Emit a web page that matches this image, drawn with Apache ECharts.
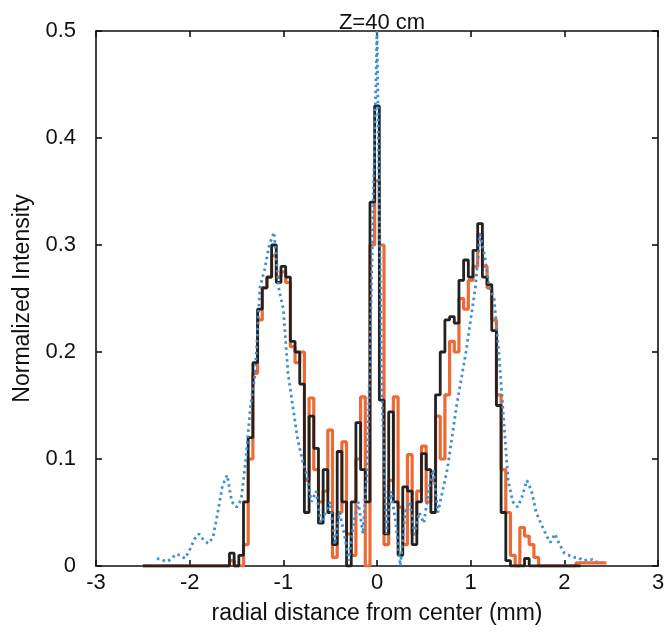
<!DOCTYPE html>
<html><head><meta charset="utf-8">
<script src="https://cdn.jsdelivr.net/npm/echarts@6/dist/echarts.min.js"></script>
<style>html,body{margin:0;padding:0;background:#fff}#c{width:670px;height:639px}</style>
</head><body><div id="c"></div>
<script>
// x positions (mm), step 0.05 from -2.5 to 2.45
var xs = [];
for (var i = 0; i <= 99; i++) xs.push(Math.round((-2.5 + 0.05 * i) * 100) / 100);

var titleText = 'Z=40 cm';
var xName = 'radial distance from center (mm)';
var yName = 'Normalized Intensity';
var xTicks = [-3, -2, -1, 0, 1, 2, 3];
var yTicks = [0, 0.1, 0.2, 0.3, 0.4, 0.5];

// black solid series (values at xs)
var blackVals = [
 0,0,0,0,0,0,0,0,0,0,            // -2.50 .. -2.05
 0,0,0,0,0,0,0,0,0,0.012,        // -2.00 .. -1.55
 0,0.01,0.06,0.12,0.19,0.24,0.26,0.27,0.30,0.265, // -1.50 .. -1.05
 0.28,0.27,0.21,0.20,0.17,0.05,0.14,0.11,0.04,0.09, // -1.00 .. -0.55
 0.05,0.02,0.107,0.06,0.0,0.06,0.134,0.09,0.06,0.34, // -0.50 .. -0.05
 0.43,0.155,0.03,0.144,0.06,0.01,0.074,0.07,0.02,0.06, // 0.00 .. 0.45
 0.105,0.09,0.05,0.16,0.20,0.23,0.233,0.227,0.267,0.286, // 0.50 .. 0.95
 0.27,0.295,0.32,0.27,0.263,0.22,0.15,0.05,0.005,0, // 1.00 .. 1.45
 0,0,0.007,0,0,0,0,0,0,0,        // 1.50 .. 1.95
 0,0,0,0,null,null,null,null,null,null // 2.00 .. 2.45
];
// orange solid series
var orangeVals = [
 0,0,0,0,0,0,0,0,0,0,
 0,0,0,0,0,0,0,0,0,0.005,
 0,0,0.02,0.10,0.18,0.23,0.26,0.27,0.29,0.27,
 0.275,0.265,0.205,0.19,0.20,0.08,0.157,0.09,0.06,0.07,
 0.127,0.008,0.05,0.116,0.03,0.01,0.10,0.158,0.0,0.30,
 0.36,0.30,0.02,0.08,0.158,0.055,0.02,0.104,0.03,0.07,
 0.112,0.06,0.08,0.14,0.10,0.16,0.21,0.20,0.25,0.24,
 0.267,0.28,0.31,0.28,0.26,0.23,0.16,0.09,0.05,0.01,
 0.0,0.036,0.028,0.02,0.008,0,0,0,0,0,
 0,0,0,0.003,0.003,0.003,0.003,0.003,0.003,0.003
];
// blue dotted series
var blueVals = [
 null,null,null,0.007,0.006,0.004,0.006,0.011,0.01,0.007,
 0.015,0.025,0.03,0.024,0.021,0.027,0.05,0.075,0.085,0.06,
 0.055,0.062,0.10,0.15,0.18,0.26,0.277,0.30,0.312,0.26,
 0.24,0.18,0.15,0.12,0.10,0.085,0.06,0.07,0.04,0.05,
 0.06,0.02,0.05,0.03,0.005,0.04,0.06,0.03,0.10,0.30,
 0.50,0.17,0.03,0.07,0.04,0.0,0.05,0.06,0.03,0.05,
 0.04,0.07,0.09,0.05,0.07,0.09,0.12,0.15,0.175,0.20,
 0.23,0.26,0.31,0.29,0.26,0.25,0.20,0.14,0.08,0.06,
 0.055,0.065,0.08,0.07,0.05,0.04,0.03,0.022,0.03,0.02,
 0.012,0.01,0.008,0.008,0.005,0.006,0.006,0.004,null,null
];

function pairs(v){ var out=[]; for (var i=0;i<xs.length;i++) out.push([xs[i], v[i]]); return out; }

var FONT = 'Liberation Sans, Arial, sans-serif';
var chart = echarts.init(document.getElementById('c'), null, {renderer:'canvas'});
var axisLine = {show:true, onZero:false, lineStyle:{color:'#111', width:1.6}};
var tick = {show:true, inside:true, length:6, lineStyle:{color:'#111', width:1.6}};
chart.setOption({
  animation:false,
  backgroundColor:'#fff',
  title:{text:titleText, left:377, top:7, textAlign:'center',
    textStyle:{fontFamily:FONT, fontSize:22, fontWeight:'normal', color:'#111'}},
  grid:{left:96, right:12, top:31, bottom:73, containLabel:false},
  xAxis:[
    {type:'value', min:xTicks[0], max:xTicks[xTicks.length-1], interval:1, position:'bottom',
     name:xName, nameLocation:'middle', nameGap:36,
     nameTextStyle:{fontFamily:FONT, fontSize:23, color:'#111'},
     axisLine:axisLine, axisTick:tick,
     axisLabel:{fontFamily:FONT, fontSize:22, color:'#111', margin:6},
     splitLine:{show:false}},
    {type:'value', min:xTicks[0], max:xTicks[xTicks.length-1], interval:1, position:'top',
     axisLine:axisLine, axisTick:tick,
     axisLabel:{show:false}, splitLine:{show:false}}
  ],
  yAxis:[
    {type:'value', min:yTicks[0], max:yTicks[yTicks.length-1], interval:0.1, position:'left',
     name:yName, nameLocation:'middle', nameGap:62,
     nameTextStyle:{fontFamily:FONT, fontSize:23, color:'#111'},
     axisLine:axisLine, axisTick:tick,
     axisLabel:{fontFamily:FONT, fontSize:22, color:'#111', margin:20},
     splitLine:{show:false}},
    {type:'value', min:yTicks[0], max:yTicks[yTicks.length-1], interval:0.1, position:'right',
     axisLine:axisLine, axisTick:tick,
     axisLabel:{show:false}, splitLine:{show:false}}
  ],
  series:[
    {type:'line', step:'middle', data:pairs(orangeVals), showSymbol:false, connectNulls:false,
     lineStyle:{color:'#ee6a35', width:3.2}, z:2},
    {type:'line', step:'middle', data:pairs(blackVals), showSymbol:false, connectNulls:false,
     lineStyle:{color:'#222222', width:2.8}, z:3},
    {type:'line', data:pairs(blueVals), showSymbol:false, connectNulls:false,
     lineStyle:{color:'#3d8fd1', width:2.8, type:[2.5,3.5]}, z:4}
  ]
});
</script></body></html>
